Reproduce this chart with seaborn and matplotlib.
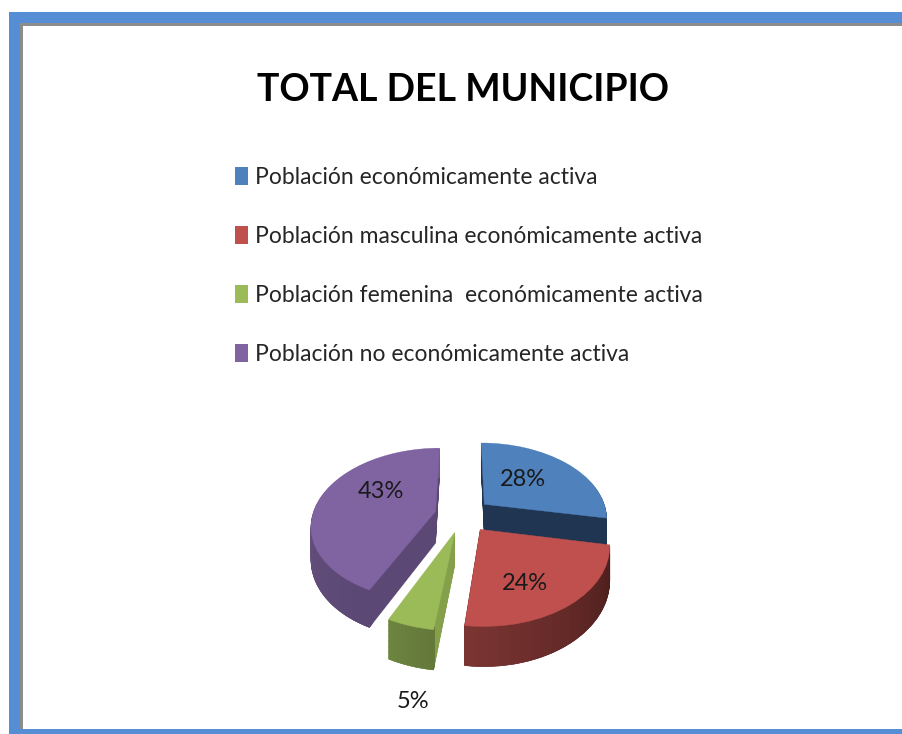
import numpy as np
import seaborn as sns
from matplotlib import pyplot as plt
from matplotlib.patches import Patch, Rectangle
from matplotlib.transforms import Transform

categories = ['Población económicamente activa',
              'Población masculina económicamente activa',
              'Población femenina  económicamente activa',
              'Población no económicamente activa']
values = [28, 24, 5, 43]
title = 'TOTAL DEL MUNICIPIO'

top_colors = ['#4f81bd', '#c0504d', '#9bbb59', '#8064a2']
cut_colors = ['#1f3552', '#4f2120', '#84a04b', '#5c4874']
rim_colors = [('#1f3552', '#1f3552'), ('#4a1e1c', '#7a3432'),
              ('#64783a', '#6c8540'), ('#5c4874', '#6f588c')]
# blue goes to the back, red to the front
draw_order = [1, 4, 3, 2]

EXPLODE = 0.23
WALL_PX = 32
RIM_STEPS = 20
FONT = ['Lato', 'DejaVu Sans']


class PieProjection(Transform):
    """Tilts the flat pie: the far side shrinks, lift moves it down the wall"""
    input_dims = 2
    output_dims = 2

    def __init__(self, lift=0.0):
        super().__init__()
        self.lift = lift

    def transform_non_affine(self, xy):
        xy = np.asarray(xy, dtype=float)
        w = 1 + 0.17 * xy[:, 1]
        return np.column_stack([463 + 123 * xy[:, 0] / w,
                                515 - 75 * xy[:, 1] / w + self.lift / w])


def place_wedges(ax, wedges, owners, lift, offset):
    projection = PieProjection(lift) + ax.transData
    for wedge, owner in zip(wedges, owners):
        wedge.set_transform(projection)
        wedge.set_zorder(draw_order[owner] + offset)
        wedge.set_edgecolor(wedge.get_facecolor())


sns.set_theme(style='white')
plt.rcParams['font.family'] = FONT

fig = plt.figure(figsize=(9.03, 7.34), dpi=100, facecolor='white')
ax = fig.add_axes([0, 0, 1, 1])

# side walls, stacked from the bottom up
rim_values = [v / RIM_STEPS for v in values for _ in range(RIM_STEPS)]
rim_owner = [i for i in range(len(values)) for _ in range(RIM_STEPS)]
rim_palette = [c for pair in rim_colors for c in sns.blend_palette(pair, RIM_STEPS)]
for lift in range(WALL_PX, 0, -1):
    cut, _ = ax.pie(values, explode=[EXPLODE] * 4, colors=cut_colors, startangle=90,
                    counterclock=False, wedgeprops={'linewidth': 0.3})
    place_wedges(ax, cut, range(4), lift, 0.0)
    rim, _ = ax.pie(rim_values, colors=rim_palette, startangle=90, counterclock=False,
                    wedgeprops={'width': 0.04, 'linewidth': 0.4})
    # rim pieces follow their whole slice when it is pulled out
    for piece, owner in zip(rim, rim_owner):
        piece.set_center(cut[owner].center)
    place_wedges(ax, rim, rim_owner, lift, 0.2)

# top faces
top, _ = ax.pie(values, explode=[EXPLODE] * 4, colors=top_colors, startangle=90,
                counterclock=False, wedgeprops={'linewidth': 0.3})
place_wedges(ax, top, range(4), 0, 0.5)

ax.set_aspect('auto')
ax.set_xlim(0, 903)
ax.set_ylim(734, 0)
ax.axis('off')

# percent labels
label_x = [523, 525, 413, 381]
label_y = [480, 584, 701, 491]
for x, y, v in zip(label_x, label_y, values):
    ax.text(x, y, f'{v}%', ha='center', va='center', fontsize=17, color='#1a1a1a', zorder=10)

ax.text(463, 90, title, ha='center', va='center', fontsize=27, fontweight='bold',
        color='black', zorder=10)

handles = [Patch(facecolor=c, edgecolor='none') for c in top_colors]
ax.legend(handles, categories, loc='upper left', bbox_to_anchor=(235 / 903, 1 - 167 / 734),
          frameon=False, fontsize=16.5, labelcolor='#262626', borderpad=0, borderaxespad=0,
          handlelength=0.57, handleheight=0.85, handletextpad=0.3, labelspacing=1.65)

# slide frame
frame_blue = '#558ed5'
fig.patches.extend([
    Rectangle((9, 12), 894, 11, transform=ax.transData, facecolor=frame_blue, edgecolor='none'),
    Rectangle((9, 12), 11, 722, transform=ax.transData, facecolor=frame_blue, edgecolor='none'),
    Rectangle((9, 729), 894, 5, transform=ax.transData, facecolor=frame_blue, edgecolor='none'),
    Rectangle((20, 23), 883, 2.5, transform=ax.transData, facecolor='#8c8c8c', edgecolor='none'),
    Rectangle((20, 23), 3, 706, transform=ax.transData, facecolor='#8c8c8c', edgecolor='none'),
])

fig.savefig('out.png', dpi=100)
